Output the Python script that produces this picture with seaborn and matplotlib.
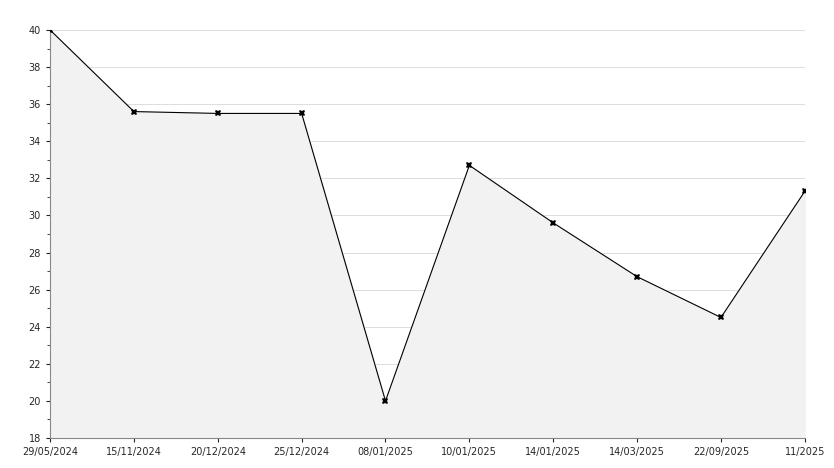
import matplotlib
matplotlib.use("Agg")
import matplotlib.pyplot as plt
import seaborn as sns
import pandas as pd
from matplotlib.ticker import MultipleLocator

dates = ["29/05/2024", "15/11/2024", "20/12/2024", "25/12/2024", "08/01/2025",
         "10/01/2025", "14/01/2025", "14/03/2025", "22/09/2025", "11/2025"]
values = [40.0, 35.6, 35.5, 35.5, 20.0, 32.7, 29.6, 26.7, 24.5, 31.3]

df = pd.DataFrame({"pos": range(len(dates)), "value": values})

sns.set_style("white")
plt.rcParams["font.family"] = ["DejaVu Sans"]

fig = plt.figure(figsize=(8.34, 4.68), dpi=100)
ax = fig.add_axes([0.06, 0.064, 0.905, 0.872])

ax.fill_between(df["pos"], df["value"], 18, color="#f2f2f2", zorder=1)
sns.lineplot(data=df, x="pos", y="value", ax=ax, color="black", linewidth=0.8,
             marker="X", markersize=5, markeredgewidth=0, zorder=3)

ax.set_xlim(0, len(dates) - 1)
ax.set_ylim(18, 40)
ax.set_xticks(df["pos"])
ax.set_xticklabels(dates, fontsize=7)
ax.yaxis.set_major_locator(MultipleLocator(2))
ax.yaxis.set_minor_locator(MultipleLocator(1))
ax.tick_params(axis="y", labelsize=7, length=3, left=True)
ax.tick_params(axis="y", which="minor", length=2, left=True)
ax.tick_params(axis="x", length=3, bottom=True)
ax.grid(axis="y", color="#dddddd", linewidth=0.7, zorder=0)
ax.set_axisbelow(True)
ax.set_xlabel("")
ax.set_ylabel("")
for side in ["top", "right"]:
    ax.spines[side].set_visible(False)
for side in ["left", "bottom"]:
    ax.spines[side].set_color("#888888")
    ax.spines[side].set_linewidth(0.8)

fig.savefig("out.png", dpi=100)
